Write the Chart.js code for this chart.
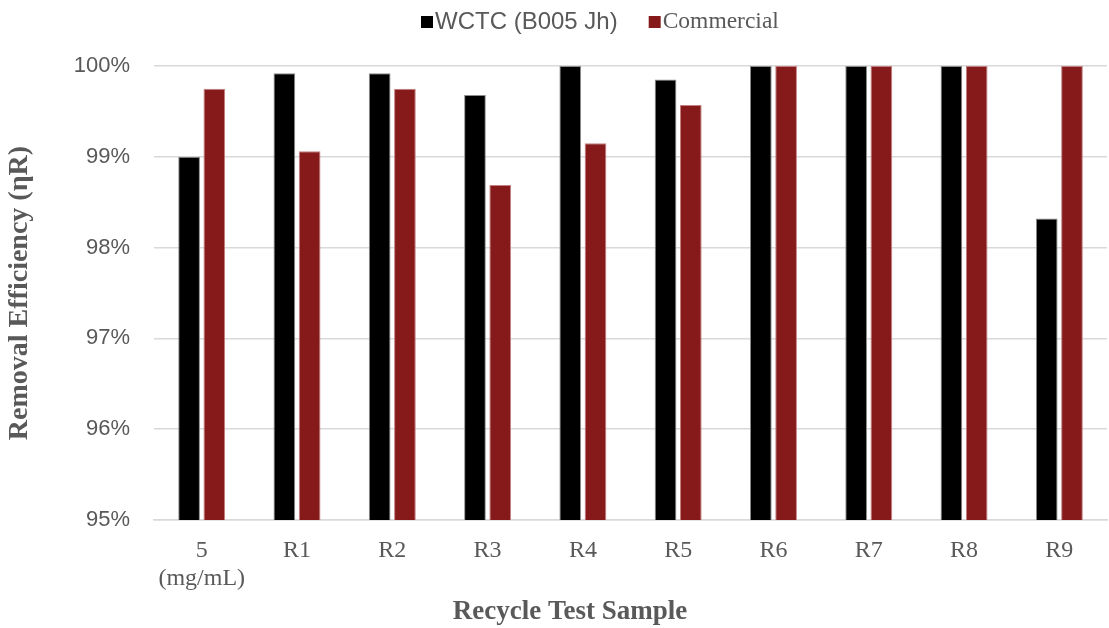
<!DOCTYPE html>
<html>
<head>
<meta charset="utf-8">
<script src="https://cdn.jsdelivr.net/npm/chart.js@4/dist/chart.umd.min.js"></script>
<style>
  html, body { margin: 0; padding: 0; background: #fff; }
  #wrap { width: 1109px; height: 628px; }
</style>
</head>
<body>
<div id="wrap"><canvas id="removal-chart"></canvas></div>
<script>
const samples = [['5', '(mg/mL)'], 'R1', 'R2', 'R3', 'R4', 'R5', 'R6', 'R7', 'R8', 'R9'];
const wctcValues = [99.00, 99.92, 99.92, 99.68, 100, 99.85, 100, 100, 100, 98.32];
const commercialValues = [99.75, 99.06, 99.75, 98.69, 99.15, 99.57, 100, 100, 100, 100];
const seriesNames = ['WCTC (B005 Jh)', 'Commercial'];
const seriesFonts = ['24px "Liberation Sans", Arial, sans-serif', '23.5px "Liberation Serif", "Times New Roman", serif'];
const yTicks = [95, 96, 97, 98, 99, 100];
const xTitle = 'Recycle Test Sample';

const textGray = '#595959';
const serif = '"Liberation Serif", "Times New Roman", serif';
const sans = '"Liberation Sans", Arial, sans-serif';

// legend and x title drawn by hand: the legend mixes two fonts and
// the title sits left of the plot centre
const chartText = {
    id: 'chartText',
    afterDraw(chart) {
        const ctx = chart.ctx;
        let x = 421;
        const y = 22;
        ctx.save();
        ctx.textBaseline = 'middle';
        chart.data.datasets.forEach((ds, i) => {
            ctx.fillStyle = ds.backgroundColor;
            ctx.fillRect(x, y - 6, 12, 12);
            x += 14;
            ctx.font = seriesFonts[i];
            ctx.fillStyle = textGray;
            ctx.fillText(ds.label, x, y);
            x += ctx.measureText(ds.label).width + 31;
        });
        ctx.font = `bold 27px ${serif}`;
        ctx.textAlign = 'center';
        ctx.fillText(xTitle, 570, 612);
        ctx.restore();
    }
};

const ctx = document.getElementById('removal-chart').getContext('2d');
new Chart(ctx, {
    type: 'bar',
    data: {
        labels: samples,
        datasets: [{
            label: seriesNames[0],
            data: wctcValues,
            backgroundColor: '#000000',
            borderColor: '#8c8c8c',
            borderWidth: 1
        }, {
            label: seriesNames[1],
            data: commercialValues,
            backgroundColor: '#861a1b',
            borderColor: '#c47f80',
            borderWidth: 1
        }]
    },
    options: {
        responsive: true,
        maintainAspectRatio: false,
        animation: false,
        layout: {
            padding: { top: 66, right: 2, bottom: 0, left: 4 }
        },
        datasets: {
            bar: {
                categoryPercentage: 0.53,
                barPercentage: 0.86
            }
        },
        plugins: {
            legend: { display: false },
            tooltip: { enabled: false }
        },
        scales: {
            x: {
                afterFit: (scale) => { scale.height = 108; },
                grid: { display: false, drawTicks: false },
                border: { display: true, color: '#d9d9d9', width: 1.5 },
                ticks: {
                    color: textGray,
                    padding: 17,
                    font: { family: serif, size: 24, lineHeight: 1.15 },
                    maxRotation: 0
                }
            },
            y: {
                min: 95,
                max: 100,
                afterBuildTicks: (axis) => {
                    axis.ticks = yTicks.map(v => ({ value: v }));
                },
                grid: { color: '#d9d9d9', lineWidth: 1.5, drawTicks: false },
                border: { display: false },
                ticks: {
                    color: textGray,
                    padding: 24,
                    font: { family: sans, size: 22 },
                    callback: (v) => `${v}%`
                },
                title: {
                    display: true,
                    text: 'Removal Efficiency (ηR)',
                    color: textGray,
                    font: { family: serif, size: 28, weight: 'bold', lineHeight: 1.1 },
                    padding: { top: 0, bottom: 15 }
                }
            }
        }
    },
    plugins: [chartText]
});
</script>
</body>
</html>
